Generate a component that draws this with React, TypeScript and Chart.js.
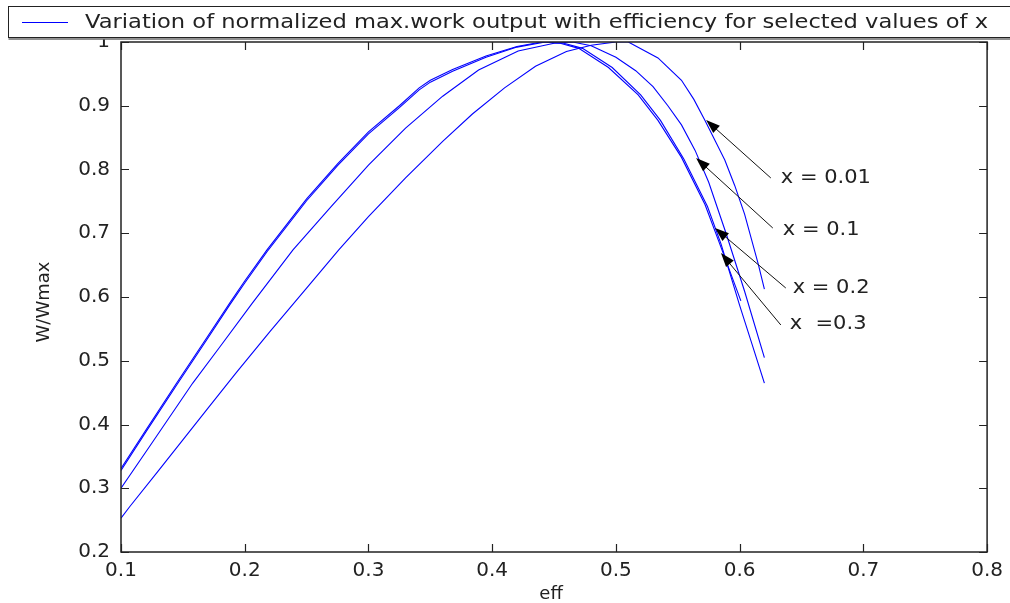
import React, { useEffect, useRef } from 'react';
import { Chart, registerables } from 'chart.js';

Chart.register(...registerables);

// Axis ticks
const xTickValues = [0.1, 0.2, 0.3, 0.4, 0.5, 0.6, 0.7, 0.8];
const xTickLabels = ['0.1', '0.2', '0.3', '0.4', '0.5', '0.6', '0.7', '0.8'];
const yTickValues = [0.2, 0.3, 0.4, 0.5, 0.6, 0.7, 0.8, 0.9, 1.0];
const yTickLabels = ['0.2', '0.3', '0.4', '0.5', '0.6', '0.7', '0.8', '0.9', '1'];

// Normalized max. work output W/Wmax against efficiency, one curve per x
const effX03 = [0.100, 0.120, 0.145, 0.170, 0.188, 0.200, 0.218, 0.250, 0.275, 0.300, 0.325, 0.341, 0.350, 0.368, 0.395, 0.420, 0.440, 0.455, 0.470, 0.494, 0.518, 0.534, 0.553, 0.572, 0.583, 0.601];
const wX03 = [0.331, 0.391, 0.465, 0.538, 0.591, 0.625, 0.674, 0.754, 0.809, 0.859, 0.900, 0.928, 0.940, 0.957, 0.978, 0.993, 1.000, 0.998, 0.990, 0.960, 0.917, 0.877, 0.819, 0.745, 0.688, 0.594];

const effX02 = [0.100, 0.120, 0.145, 0.170, 0.188, 0.200, 0.218, 0.250, 0.275, 0.300, 0.325, 0.341, 0.350, 0.368, 0.395, 0.420, 0.443, 0.458, 0.473, 0.497, 0.520, 0.536, 0.555, 0.574, 0.585, 0.600, 0.610, 0.620];
const wX02 = [0.328, 0.388, 0.462, 0.535, 0.588, 0.622, 0.671, 0.751, 0.806, 0.856, 0.897, 0.925, 0.937, 0.954, 0.976, 0.992, 1.000, 0.998, 0.990, 0.960, 0.917, 0.877, 0.816, 0.742, 0.683, 0.587, 0.526, 0.465];

const effX01 = [0.100, 0.125, 0.158, 0.180, 0.206, 0.239, 0.270, 0.300, 0.330, 0.360, 0.389, 0.421, 0.450, 0.465, 0.480, 0.500, 0.516, 0.530, 0.542, 0.553, 0.564, 0.575, 0.589, 0.604, 0.620];
const wX01 = [0.300, 0.371, 0.465, 0.522, 0.590, 0.674, 0.742, 0.807, 0.865, 0.915, 0.956, 0.986, 0.998, 1.000, 0.994, 0.976, 0.955, 0.930, 0.900, 0.870, 0.830, 0.780, 0.700, 0.609, 0.505];

const effX001 = [0.100, 0.107, 0.130, 0.150, 0.170, 0.193, 0.220, 0.250, 0.276, 0.300, 0.330, 0.360, 0.384, 0.410, 0.435, 0.460, 0.480, 0.500, 0.510, 0.534, 0.553, 0.563, 0.572, 0.588, 0.596, 0.604, 0.615, 0.620];
const wX001 = [0.253, 0.271, 0.327, 0.376, 0.425, 0.481, 0.545, 0.614, 0.674, 0.726, 0.787, 0.844, 0.887, 0.928, 0.962, 0.985, 0.995, 1.000, 1.000, 0.975, 0.940, 0.910, 0.877, 0.815, 0.775, 0.730, 0.652, 0.6125];

const legendText = 'Variation of normalized max.work output with efficiency for selected values of x';
const xTitle = 'eff';
const yTitle = 'W/Wmax';

// Arrow annotations (data coordinates: eff, W/Wmax)
const noteLabels = ['x = 0.01', 'x = 0.1', 'x = 0.2', 'x  =0.3'];
const noteTailEff = [0.6252, 0.6268, 0.6373, 0.6333];
const noteTailW = [0.7867, 0.7082, 0.6141, 0.5561];
const noteHeadEff = [0.5729, 0.5648, 0.5801, 0.5849];
const noteHeadW = [0.8776, 0.8180, 0.7082, 0.6690];
const noteTextEff = [0.6333, 0.6349, 0.6429, 0.6405];
const noteTextW = [0.7867, 0.7050, 0.6150, 0.5576];

const FONT = "'DejaVu Sans', 'Verdana', sans-serif";
const INK = '#222222';
const BLUE = '#0000ff';

const toPoints = (xs: number[], ys: number[]) => xs.map((x, i) => ({ x, y: ys[i] }));

// Draws text stretched horizontally by a factor, starting at (x, y)
function wideText(ctx: CanvasRenderingContext2D, text: string, x: number, y: number, sx: number) {
  ctx.save();
  ctx.translate(x, y);
  ctx.scale(sx, 1);
  ctx.fillText(text, 0, 0);
  ctx.restore();
}

const framePlugin = {
  id: 'matlabFrame',
  afterDatasetsDraw(chart: any) {
    const { ctx, chartArea } = chart;
    const { left, right, top, bottom } = chartArea;
    const xs = chart.scales.x;
    const ys = chart.scales.y;
    ctx.save();
    // box
    ctx.strokeStyle = INK;
    ctx.lineWidth = 1.5;
    ctx.strokeRect(left, top, right - left, bottom - top);
    // inward ticks on all four sides
    const tl = 8;
    ctx.beginPath();
    xTickValues.forEach((v) => {
      const px = Math.round(xs.getPixelForValue(v)) + 0.5;
      ctx.moveTo(px, bottom);
      ctx.lineTo(px, bottom - tl);
      ctx.moveTo(px, top);
      ctx.lineTo(px, top + tl);
    });
    yTickValues.forEach((v) => {
      const py = Math.round(ys.getPixelForValue(v)) + 0.5;
      ctx.moveTo(left, py);
      ctx.lineTo(left + tl, py);
      ctx.moveTo(right, py);
      ctx.lineTo(right - tl, py);
    });
    ctx.lineWidth = 1.2;
    ctx.stroke();

    // arrows with labels
    noteLabels.forEach((label, i) => {
      const tx = xs.getPixelForValue(noteTailEff[i]);
      const ty = ys.getPixelForValue(noteTailW[i]);
      const hx = xs.getPixelForValue(noteHeadEff[i]);
      const hy = ys.getPixelForValue(noteHeadW[i]);
      const ang = Math.atan2(hy - ty, hx - tx);
      const headLen = 14;
      const headHalf = 5;
      ctx.strokeStyle = '#111';
      ctx.lineWidth = 1;
      ctx.beginPath();
      ctx.moveTo(tx, ty);
      ctx.lineTo(hx - Math.cos(ang) * headLen * 0.8, hy - Math.sin(ang) * headLen * 0.8);
      ctx.stroke();
      const bx = hx - Math.cos(ang) * headLen;
      const by = hy - Math.sin(ang) * headLen;
      ctx.fillStyle = '#000';
      ctx.beginPath();
      ctx.moveTo(hx, hy);
      ctx.lineTo(bx + Math.sin(ang) * headHalf, by - Math.cos(ang) * headHalf);
      ctx.lineTo(bx - Math.sin(ang) * headHalf, by + Math.cos(ang) * headHalf);
      ctx.closePath();
      ctx.fill();

      ctx.fillStyle = INK;
      ctx.font = `20px ${FONT}`;
      ctx.textAlign = 'left';
      ctx.textBaseline = 'middle';
      wideText(ctx, label, xs.getPixelForValue(noteTextEff[i]), ys.getPixelForValue(noteTextW[i]), 1.05);
    });
    ctx.restore();
  },
  afterDraw(chart: any) {
    const { ctx, chartArea } = chart;
    ctx.save();
    // axis titles
    ctx.fillStyle = INK;
    ctx.font = `18px ${FONT}`;
    ctx.textAlign = 'center';
    ctx.textBaseline = 'middle';
    ctx.fillText(xTitle, (chartArea.left + chartArea.right) / 2 - 3, 594);
    ctx.save();
    ctx.translate(44, (chartArea.top + chartArea.bottom) / 2 + 5);
    ctx.rotate(-Math.PI / 2);
    ctx.fillText(yTitle, 0, 0);
    ctx.restore();

    // legend box
    const lx = 8.5;
    const ly = 6.5;
    const lw = 1010;
    const lh = 31;
    ctx.fillStyle = '#ffffff';
    ctx.fillRect(lx, ly, lw, lh + 2);
    ctx.strokeStyle = INK;
    ctx.lineWidth = 1;
    ctx.strokeRect(lx, ly, lw, lh);
    ctx.beginPath();
    ctx.moveTo(lx, ly + lh + 1.5);
    ctx.lineTo(lx + lw, ly + lh + 1.5);
    ctx.lineWidth = 1;
    ctx.stroke();
    ctx.strokeStyle = BLUE;
    ctx.lineWidth = 1;
    ctx.beginPath();
    ctx.moveTo(22, 22.5);
    ctx.lineTo(68, 22.5);
    ctx.stroke();
    ctx.fillStyle = INK;
    ctx.font = `20px ${FONT}`;
    ctx.textAlign = 'left';
    ctx.textBaseline = 'alphabetic';
    const natural = ctx.measureText(legendText).width;
    wideText(ctx, legendText, 85, 28, 903 / natural);
    ctx.restore();
  },
};

export default function App() {
  const canvasRef = useRef<HTMLCanvasElement | null>(null);

  useEffect(() => {
    const canvas = canvasRef.current;
    if (!canvas) return;
    const lineStyle = {
      borderColor: BLUE,
      borderWidth: 1.1,
      pointRadius: 0,
      showLine: true,
      tension: 0,
      fill: false,
    };
    const chart = new Chart(canvas, {
      type: 'scatter',
      data: {
        datasets: [
          { label: 'x = 0.3', data: toPoints(effX03, wX03), ...lineStyle },
          { label: 'x = 0.2', data: toPoints(effX02, wX02), ...lineStyle },
          { label: 'x = 0.1', data: toPoints(effX01, wX01), ...lineStyle },
          { label: 'x = 0.01', data: toPoints(effX001, wX001), ...lineStyle },
        ],
      },
      options: {
        responsive: false,
        animation: false,
        devicePixelRatio: 1,
        layout: { padding: { left: 0, top: 42, right: 20, bottom: 0 } },
        plugins: {
          legend: { display: false },
          tooltip: { enabled: false },
        },
        scales: {
          x: {
            type: 'linear',
            min: 0.1,
            max: 0.8,
            afterBuildTicks: (s: any) => {
              s.ticks = xTickValues.map((value) => ({ value }));
            },
            afterFit: (s: any) => {
              s.height = 51;
            },
            ticks: {
              autoSkip: false,
              maxRotation: 0,
              padding: 7,
              color: INK,
              font: { family: FONT, size: 20 },
              callback: (_v: any, i: number) => xTickLabels[i],
            },
            grid: { display: false, drawTicks: false },
            border: { display: false },
          },
          y: {
            type: 'linear',
            min: 0.2,
            max: 1.0,
            afterBuildTicks: (s: any) => {
              s.ticks = yTickValues.map((value) => ({ value }));
            },
            afterFit: (s: any) => {
              s.width = 121;
            },
            ticks: {
              autoSkip: false,
              padding: 11,
              color: INK,
              font: { family: FONT, size: 20 },
              callback: (_v: any, i: number) => yTickLabels[i],
            },
            grid: { display: false, drawTicks: false },
            border: { display: false },
          },
        },
      },
      plugins: [framePlugin],
    });
    return () => chart.destroy();
  }, []);

  return (
    <div style={{ position: 'absolute', left: 0, top: 0, width: 1010, height: 603, background: '#fff' }}>
      <canvas ref={canvasRef} width={1010} height={603} style={{ display: 'block' }} />
    </div>
  );
}
